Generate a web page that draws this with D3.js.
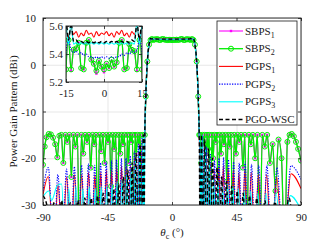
<!DOCTYPE html>
<html>
<head>
<meta charset="utf-8">
<script src="https://cdn.jsdelivr.net/npm/d3@7"></script>
<style>
  body { margin: 0; background: #fff; }
  text { font-family: "Liberation Serif", "Times New Roman", serif; font-size: 11px; fill: #1a1a1a; }
  .axis path { display: none; }
  .axis line { stroke: #1a1a1a; stroke-width: 0.8; }
  .grid line { stroke: #dcdcdc; stroke-width: 0.7; }
  .grid path { display: none; }
</style>
</head>
<body>
<div id="chart"></div>
<script>
// ---- data ----
var xTicks = [-90, -45, 0, 45, 90];
var yTicks = [-30, -20, -10, 0, 10];
var insetXTicks = [-15, 0, 15];
var insetYTicks = [5.2, 5.4, 5.6];

// main-beam samples shown in the zoom box
var thetaTop = [-15,-14,-13,-12,-11,-10,-9,-8,-7,-6,-5,-4,-3,-2,-1,0,1,2,3,4,5,6,7,8,9,10,11,12,13,14,15];
var sbps1Top = [5.29,5.50,5.28,5.43,5.44,5.48,5.30,5.29,5.48,5.50,5.36,5.33,5.26,5.35,5.31,5.27,5.33,5.30,5.35,5.31,5.34,5.48,5.50,5.29,5.30,5.47,5.43,5.42,5.28,5.50,5.29];
var sbps2Top = [5.29,5.50,5.29,5.43,5.44,5.48,5.30,5.29,5.48,5.50,5.36,5.33,5.28,5.35,5.31,5.29,5.33,5.30,5.36,5.31,5.34,5.48,5.50,5.29,5.30,5.47,5.43,5.42,5.29,5.50,5.29];
var pgps1Top = [5.57,5.52,5.58,5.54,5.56,5.52,5.55,5.53,5.57,5.54,5.55,5.52,5.56,5.53,5.55,5.54,5.56,5.53,5.55,5.52,5.56,5.54,5.57,5.53,5.55,5.52,5.56,5.54,5.58,5.52,5.57];
var pgps2Top = [5.42,5.50,5.43,5.41,5.42,5.40,5.41,5.39,5.40,5.38,5.38,5.37,5.38,5.37,5.38,5.37,5.38,5.37,5.38,5.37,5.38,5.38,5.40,5.39,5.41,5.40,5.42,5.41,5.43,5.50,5.42];
var pgps3Top = [5.60,5.47,5.62,5.47,5.48,5.47,5.48,5.47,5.48,5.47,5.48,5.47,5.48,5.47,5.48,5.47,5.48,5.47,5.48,5.47,5.48,5.47,5.48,5.47,5.48,5.47,5.48,5.47,5.62,5.47,5.60];
var pgoTop   = [5.64,5.50,5.62,5.49,5.50,5.48,5.49,5.48,5.49,5.48,5.49,5.48,5.49,5.48,5.49,5.48,5.49,5.48,5.49,5.48,5.49,5.48,5.49,5.48,5.49,5.48,5.50,5.49,5.62,5.50,5.64];

// beam edges (all curves coincide there)
var edgeLeft  = [[-19.0,-15],[-18.3,-6.8],[-17.2,0.7],[-16,4.3]];
var edgeRight = [[16,4.3],[17.2,0.7],[18.3,-6.8],[19.0,-15]];

// sidelobes [theta, dB]
var sbpsLeft = [[-90,-21.4],[-88.8,-17.5],[-87.5,-15.5],[-86,-14.8],[-84.5,-14.9],[-83,-15.6],[-81.5,-17],[-80,-19.8],[-78.6,-15.2],[-77.2,-15],[-75.8,-21],[-74.4,-15],[-73,-16.5],[-71.6,-15],[-70.2,-24],[-68.8,-15],[-67.4,-17.5],[-66,-15],[-64.6,-40],[-63.2,-15],[-61.9,-19],[-60.6,-15],[-59.3,-16.5],[-58,-15],[-56.7,-22],[-55.4,-15],[-54.2,-17],[-53,-15],[-51.8,-40],[-50.6,-15],[-49.4,-18.5],[-48.2,-15],[-47,-21],[-45.8,-15],[-44.7,-16.5],[-43.6,-15],[-42.5,-26],[-41.4,-15],[-40.3,-18],[-39.2,-15],[-38.1,-40],[-37.1,-15],[-36.1,-19],[-35.1,-15],[-34.1,-17],[-33.1,-15],[-32.1,-40],[-31.2,-15],[-30.3,-21],[-29.4,-15],[-28.5,-16.5],[-27.6,-15],[-26.7,-40],[-25.8,-15],[-24.9,-19],[-24,-15],[-23.1,-17],[-22.2,-15],[-21.3,-32],[-20.4,-15]];
var sbpsRight = [[19.6,-15],[20.4,-21],[21.2,-15],[22,-17],[22.8,-15],[23.6,-24],[24.4,-15],[25.2,-18],[26,-15],[26.9,-40],[27.8,-15],[28.7,-20],[29.6,-15],[30.5,-16.5],[31.4,-15],[32.3,-40],[33.2,-15],[34.2,-19],[35.2,-15],[36.2,-17],[37.2,-15],[38.2,-25],[39.2,-15],[40.2,-17.5],[41.2,-15],[42.3,-40],[43.4,-15],[44.6,-19],[45.8,-15],[47,-16.5],[48.2,-15],[49.5,-22],[50.8,-15],[52.2,-40],[53.6,-15],[55,-17],[56.4,-15],[58,-20],[59.6,-15],[61.3,-40],[63,-15],[64.7,-17.5],[66.4,-15],[68.3,-21],[70.2,-17],[72.2,-27],[74.3,-16],[76.4,-20],[78.5,-40],[80.5,-16.5],[82,-15],[83.5,-14.8],[85,-15.3],[86.5,-16.5],[88,-18],[90,-20.5]];

var pgps1Left = [[-90,-27.8],[-86.3,-23.9],[-82.5,-40],[-79.5,-25.5],[-76.5,-40],[-73.5,-24],[-70.5,-40],[-68,-23.5],[-65.5,-40],[-63,-23.5],[-60.5,-40],[-58.2,-23],[-56,-40],[-53.8,-23.5],[-51.7,-40],[-49.7,-23],[-47.7,-40],[-45.8,-22.5],[-43.9,-40],[-42.1,-22.5],[-40.3,-40],[-38.6,-22],[-36.9,-40],[-35.2,-21.5],[-33.6,-40],[-32,-22],[-30.5,-40],[-29,-21.5],[-27.5,-40],[-26,-20],[-24.6,-40],[-23.2,-18.5],[-21.9,-40],[-20.8,-16],[-19.8,-40]];
var pgps1Right = [[19.6,-22],[20.2,-40],[21.2,-16.5],[22.3,-40],[23.7,-19],[25,-40],[26.5,-21],[28,-40],[29.5,-22.5],[31,-40],[32.6,-22],[34.2,-40],[35.8,-21.5],[37.4,-40],[39.2,-22],[41,-40],[42.8,-22.5],[44.7,-40],[46.7,-23],[48.7,-40],[50.8,-22.5],[53,-40],[55.3,-23],[57.7,-40],[60.3,-23.5],[63,-40],[66,-23.5],[69.3,-40],[73,-24],[77.5,-40],[83,-23.3],[90,-26.5]];

var pgps2Left = [[-90,-27],[-86.3,-22],[-82.5,-40],[-79.6,-23.5],[-76.6,-40],[-73.6,-22.3],[-70.6,-40],[-68.1,-21.8],[-65.6,-40],[-63.1,-21.5],[-60.6,-40],[-58.3,-21.2],[-56.1,-40],[-53.9,-21.5],[-51.8,-40],[-49.8,-21],[-47.8,-40],[-45.9,-20.8],[-44,-40],[-42.2,-20.5],[-40.4,-40],[-38.7,-20.3],[-37,-40],[-35.3,-20],[-33.7,-40],[-32.1,-20],[-30.6,-40],[-29.1,-19.5],[-27.6,-40],[-26.1,-18.5],[-24.7,-40],[-23.3,-17],[-22,-40],[-20.9,-15.3],[-19.9,-40]];
var pgps2Right = [[19.6,-20],[20.4,-40],[21.4,-15.2],[22.5,-40],[23.9,-17.5],[25.2,-40],[26.7,-19],[28.2,-40],[29.7,-20.5],[31.2,-40],[32.8,-20],[34.4,-40],[36,-19.8],[37.6,-40],[39.4,-20.3],[41.2,-40],[43,-20.8],[44.9,-40],[46.9,-21],[48.9,-40],[51,-20.8],[53.2,-40],[55.5,-21.3],[57.9,-40],[60.5,-21.5],[63.2,-40],[66.2,-21.5],[69.5,-40],[73.2,-22],[77.7,-40],[83,-21.6],[90,-24.5]];

var pgps3Left = [[-90,-28.2],[-86,-27],[-84,-29],[-80,-25.8],[-77,-25.5],[-74.5,-40],[-72,-26.5],[-69.5,-40],[-67,-26],[-64.5,-40],[-62.2,-26.5],[-60,-40],[-57.8,-26],[-55.6,-40],[-53.5,-26.5],[-51.4,-40],[-49.4,-26],[-47.4,-40],[-45.5,-26],[-43.6,-40],[-41.8,-25.5],[-40,-40],[-38.3,-25],[-36.6,-40],[-34.9,-24.5],[-33.2,-40],[-31.6,-23.5],[-30,-40],[-28.5,-22],[-27,-40],[-25.5,-20],[-24.1,-40],[-22.7,-18],[-21.4,-40],[-20.3,-15.5],[-19.6,-40]];
var pgps3Right = [[19.5,-17],[20.0,-40],[21.0,-15],[22.0,-40],[23.3,-18],[24.6,-40],[26.1,-21],[27.6,-40],[29.1,-24],[30.6,-40],[32.2,-25],[33.8,-40],[35.4,-26],[37,-40],[38.8,-25.5],[40.6,-40],[42.4,-26],[44.3,-40],[46.3,-26.5],[48.3,-40],[50.4,-27],[52.6,-40],[54.9,-27],[57.3,-40],[59.9,-27.5],[62.6,-40],[65.6,-27.5],[68.9,-40],[72.6,-27.5],[77,-40],[82.5,-28],[90,-31]];

var pgoLeft = [[-90,-28],[-87,-30.5],[-85,-40],[-82.5,-29.5],[-80,-40],[-77,-29],[-74,-40],[-71,-29.5],[-68.3,-40],[-65.7,-29],[-63.2,-40],[-60.8,-28.5],[-58.5,-40],[-56.3,-28.5],[-54.1,-40],[-52,-28],[-50,-40],[-48,-27.5],[-46.1,-40],[-44.2,-27],[-42.4,-40],[-40.6,-26.5],[-38.9,-40],[-37.2,-25.5],[-35.5,-40],[-33.9,-24],[-32.3,-40],[-30.8,-22.5],[-29.3,-40],[-27.8,-21],[-26.4,-40],[-25,-19],[-23.6,-40],[-22.3,-17],[-21.1,-40],[-20,-15],[-19.5,-40]];
var pgoRight = [[19.6,-40],[20.6,-15],[21.6,-40],[22.8,-16],[24,-40],[25.4,-18],[26.8,-40],[28.3,-20],[29.8,-40],[31.4,-22],[33,-40],[34.6,-24],[36.2,-40],[38,-25],[39.8,-40],[41.6,-26],[43.5,-40],[45.5,-27],[47.5,-40],[49.6,-27.5],[51.8,-40],[54.1,-28],[56.5,-40],[59.1,-28.5],[61.8,-40],[64.8,-29],[68.1,-40],[71.8,-29.3],[76.2,-40],[81.7,-28.5],[86.5,-40],[90,-29.2]];

// ---- layout ----
var svgWidth = 332;
var svgHeight = 249;
var margin = { top: 18, right: 31, bottom: 44, left: 43 };
var width = svgWidth - margin.left - margin.right;
var height = svgHeight - margin.top - margin.bottom;

function buildSeries(left, top, right) {
  var mid = thetaTop.map(function(t, i) { return [t, top[i]]; });
  return left.concat(edgeLeft, mid, edgeRight, right);
}

var series = [
  { name: "SBPS", sub: "1", color: "#ff00ff", dash: null, lw: 1.1, marker: "square", data: buildSeries(sbpsLeft, sbps1Top, sbpsRight) },
  { name: "SBPS", sub: "2", color: "#00ee00", dash: null, lw: 1.3, marker: "circle", data: buildSeries(sbpsLeft, sbps2Top, sbpsRight) },
  { name: "PGPS", sub: "1", color: "#ff0000", dash: null, lw: 1.1, marker: null, data: buildSeries(pgps1Left, pgps1Top, pgps1Right) },
  { name: "PGPS", sub: "2", color: "#0000ff", dash: "1.3,1.3", lw: 1.1, marker: null, data: buildSeries(pgps2Left, pgps2Top, pgps2Right) },
  { name: "PGPS", sub: "3", color: "#00ffff", dash: null, lw: 1.1, marker: null, data: buildSeries(pgps3Left, pgps3Top, pgps3Right) },
  { name: "PGO-WSC", sub: "", color: "#000000", dash: "4,2.5", lw: 1.4, marker: null, data: buildSeries(pgoLeft, pgoTop, pgoRight) }
];

var svg = d3.select("#chart")
  .append("svg")
  .attr("width", svgWidth)
  .attr("height", svgHeight);

var chartGroup = svg.append("g")
  .attr("transform", `translate(${margin.left}, ${margin.top})`);

var xLinearScale = d3.scaleLinear().domain([-90, 90]).range([0, width]);
var yLinearScale = d3.scaleLinear().domain([-30, 10]).range([height, 0]);

// grid
chartGroup.append("g").attr("class", "grid")
  .attr("transform", `translate(0, ${height})`)
  .call(d3.axisBottom(xLinearScale).tickValues(xTicks).tickSize(-height).tickFormat(""));
chartGroup.append("g").attr("class", "grid")
  .call(d3.axisLeft(yLinearScale).tickValues(yTicks).tickSize(-width).tickFormat(""));

svg.append("defs").append("clipPath").attr("id", "plotClip")
  .append("rect").attr("width", width).attr("height", height);

function drawSeries(g, xs, ys, clipId, xmin, xmax) {
  var line = d3.line()
    .x(d => xs(d[0]))
    .y(d => ys(d[1]))
    .curve(d3.curveMonotoneX);
  var plot = g.append("g").attr("clip-path", `url(#${clipId})`);
  series.forEach(function(s) {
    plot.append("path")
      .datum(s.data)
      .attr("fill", "none")
      .attr("stroke", s.color)
      .attr("stroke-width", s.lw)
      .attr("stroke-dasharray", s.dash)
      .attr("d", line);
    var pts = s.data.filter(d => d[0] >= xmin && d[0] <= xmax);
    if (s.marker === "circle") {
      plot.selectAll(null).data(pts).enter().append("circle")
        .attr("cx", d => xs(d[0])).attr("cy", d => ys(d[1]))
        .attr("r", 2.5).attr("fill", "none")
        .attr("stroke", s.color).attr("stroke-width", 1);
    } else if (s.marker === "square") {
      plot.selectAll(null).data(pts).enter().append("rect")
        .attr("x", d => xs(d[0]) - 1.2).attr("y", d => ys(d[1]) - 1.2)
        .attr("width", 2.4).attr("height", 2.4).attr("fill", s.color);
    }
  });
}

drawSeries(chartGroup, xLinearScale, yLinearScale, "plotClip", -90, 90);

// axes with inward ticks on all sides
chartGroup.append("g").attr("class", "axis")
  .attr("transform", `translate(0, ${height})`)
  .call(d3.axisBottom(xLinearScale).tickValues(xTicks).tickSize(-3).tickPadding(8).tickFormat(d => String(d)));
chartGroup.append("g").attr("class", "axis")
  .call(d3.axisTop(xLinearScale).tickValues(xTicks).tickSize(-3).tickFormat(""));
chartGroup.append("g").attr("class", "axis")
  .call(d3.axisLeft(yLinearScale).tickValues(yTicks).tickSize(-3).tickPadding(7).tickFormat(d => String(d)));
chartGroup.append("g").attr("class", "axis")
  .attr("transform", `translate(${width}, 0)`)
  .call(d3.axisRight(yLinearScale).tickValues(yTicks).tickSize(-3).tickFormat(""));
chartGroup.selectAll(".axis text").style("font-size", "11px");

chartGroup.append("rect")
  .attr("width", width).attr("height", height)
  .attr("fill", "none").attr("stroke", "#1a1a1a").attr("stroke-width", 0.9);

// axis titles
svg.append("text")
  .attr("transform", `translate(16.5, ${margin.top + height / 2}) rotate(-90)`)
  .attr("text-anchor", "middle")
  .text("Power Gain Pattern (dBi)");

var xTitle = svg.append("text")
  .attr("x", margin.left + xLinearScale(0))
  .attr("y", 236)
  .attr("text-anchor", "middle");
xTitle.append("tspan").style("font-style", "italic").text("θ");
xTitle.append("tspan").attr("dy", 3).style("font-size", "8px").text("c");
xTitle.append("tspan").attr("dy", -3).text(" (°)");

// ---- inset ----
var inset = { left: 23, top: 8, width: 76, height: 56 };
var insetGroup = chartGroup.append("g")
  .attr("transform", `translate(${inset.left}, ${inset.top})`);
insetGroup.append("rect")
  .attr("width", inset.width).attr("height", inset.height).attr("fill", "#fff");

var ixScale = d3.scaleLinear().domain([-15, 15]).range([0, inset.width]);
var iyScale = d3.scaleLinear().domain([5.2, 5.6]).range([inset.height, 0]);

insetGroup.append("g").attr("class", "grid")
  .attr("transform", `translate(0, ${inset.height})`)
  .call(d3.axisBottom(ixScale).tickValues([0]).tickSize(-inset.height).tickFormat(""));
insetGroup.append("g").attr("class", "grid")
  .call(d3.axisLeft(iyScale).tickValues([5.4]).tickSize(-inset.width).tickFormat(""));

svg.select("defs").append("clipPath").attr("id", "insetClip")
  .append("rect").attr("width", inset.width).attr("height", inset.height);

drawSeries(insetGroup, ixScale, iyScale, "insetClip", -15, 15);

insetGroup.append("g").attr("class", "axis")
  .attr("transform", `translate(0, ${inset.height})`)
  .call(d3.axisBottom(ixScale).tickValues(insetXTicks).tickSize(-3).tickPadding(7.5).tickFormat(d => String(d)));
insetGroup.append("g").attr("class", "axis")
  .call(d3.axisTop(ixScale).tickValues(insetXTicks).tickSize(-3).tickFormat(""));
insetGroup.append("g").attr("class", "axis")
  .call(d3.axisLeft(iyScale).tickValues(insetYTicks).tickSize(-3).tickPadding(3).tickFormat(d3.format(".1f")));
insetGroup.append("g").attr("class", "axis")
  .attr("transform", `translate(${inset.width}, 0)`)
  .call(d3.axisRight(iyScale).tickValues(insetYTicks).tickSize(-3).tickFormat(""));
insetGroup.selectAll(".axis text").style("font-size", "11px");
insetGroup.append("rect")
  .attr("width", inset.width).attr("height", inset.height)
  .attr("fill", "none").attr("stroke", "#1a1a1a").attr("stroke-width", 0.9);

// ---- legend ----
var legend = svg.append("g").attr("transform", "translate(217, 21)");
legend.append("rect")
  .attr("width", 80).attr("height", 104)
  .attr("fill", "#fff").attr("stroke", "#1a1a1a").attr("stroke-width", 0.8);

series.forEach(function(s, i) {
  var cy = 10 + i * 17.7;
  var row = legend.append("g").attr("transform", `translate(0, ${cy})`);
  row.append("line")
    .attr("x1", 2).attr("x2", 26)
    .attr("stroke", s.color).attr("stroke-width", s.lw)
    .attr("stroke-dasharray", s.dash);
  if (s.marker === "circle") {
    row.append("circle").attr("cx", 14).attr("r", 2.5)
      .attr("fill", "none").attr("stroke", s.color).attr("stroke-width", 1);
  } else if (s.marker === "square") {
    row.append("rect").attr("x", 12.8).attr("y", -1.2).attr("width", 2.4).attr("height", 2.4)
      .attr("fill", s.color);
  }
  var t = row.append("text").attr("x", 28).attr("y", 3.5);
  t.append("tspan").text(s.name);
  if (s.sub) t.append("tspan").attr("dy", 3).style("font-size", "8px").text(s.sub);
});
</script>
</body>
</html>
